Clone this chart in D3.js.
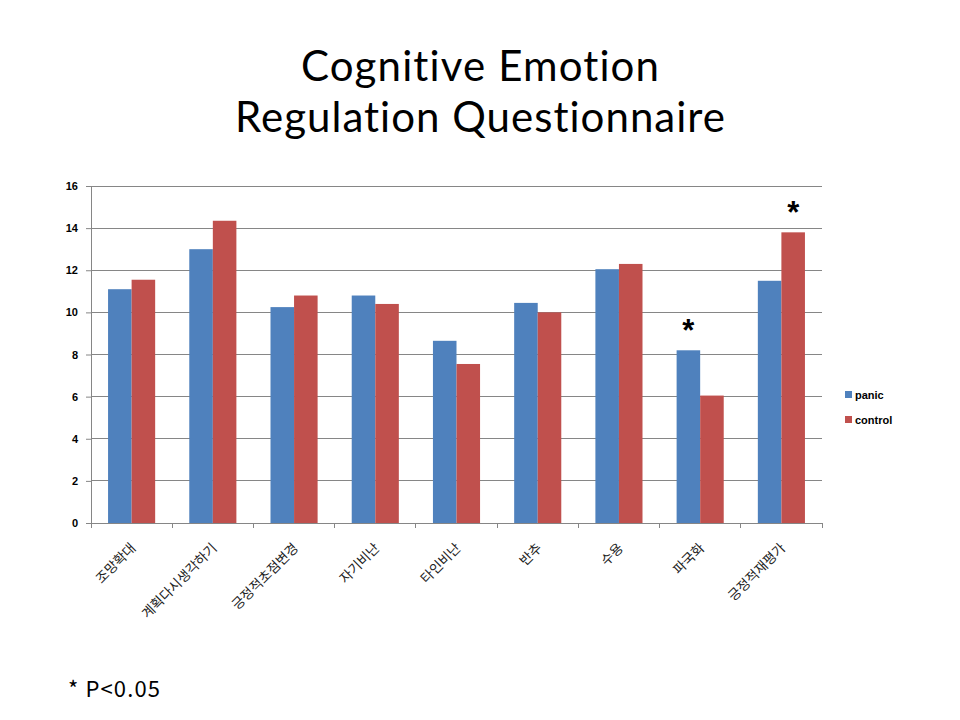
<!DOCTYPE html>
<html><head><meta charset="utf-8">
<script src="https://cdn.jsdelivr.net/npm/d3@7"></script>
<style>body{margin:0;background:#fff}svg{display:block}text{font-variant-ligatures:none;font-feature-settings:"liga" 0,"clig" 0}</style>
</head><body>
<script>
const categories = ["조망확대","계획다시생각하기","긍정적초점변경","자기비난","타인비난","반추","수용","파국화","긍정적재평가"];
const seriesNames = ["panic","control"];
const panic   = [11.1, 13.0, 10.25, 10.8, 8.65, 10.45, 12.05, 8.2, 11.5];
const control = [11.55, 14.35, 10.8, 10.4, 7.55, 10.0, 12.3, 6.05, 13.8];
const yTicks = [0,2,4,6,8,10,12,14,16];
const titleLines = ["Cognitive Emotion","Regulation Questionnaire"];
const significant = [{cat:"파국화", series:"panic"}, {cat:"긍정적재평가", series:"control"}];
const colors = {panic:"#4F81BD", control:"#C0504D"};

const W=960,H=720;
const svg=d3.select("body").append("svg").attr("width",W).attr("height",H);
const m={left:91,right:822,top:186,bottom:523};
const x=d3.scaleBand().domain(categories).range([m.left,m.right]).paddingInner(0.42).paddingOuter(0.21);
const xs=d3.scaleBand().domain(seriesNames).range([0,x.bandwidth()]);
const y=d3.scaleLinear().domain([0,16]).range([m.bottom,m.top]);

// title
const titleWidths=[358,490];
svg.append("g").selectAll("text").data(titleLines).join("text")
  .attr("x",480).attr("y",(d,i)=>81+i*51).attr("text-anchor","middle")
  .attr("font-family","Lato,'Open Sans',sans-serif").attr("font-size",42).attr("fill","#000")
  .attr("textLength",(d,i)=>titleWidths[i]).attr("lengthAdjust","spacing")
  .text(d=>d);

// gridlines
svg.append("g").selectAll("line").data(yTicks).join("line")
  .attr("x1",m.left).attr("x2",m.right).attr("y1",d=>y(d)).attr("y2",d=>y(d))
  .attr("stroke","#868686").attr("stroke-width",1).attr("shape-rendering","crispEdges");

// y axis
const ya=svg.append("g").attr("transform",`translate(${m.left},0)`).call(d3.axisLeft(y).tickValues(yTicks).tickSize(5).tickPadding(8));
ya.select(".domain").attr("stroke","#868686");
ya.selectAll(".tick line").attr("stroke","#868686");
ya.selectAll("text").attr("font-family","'Liberation Sans',Arial,sans-serif").attr("font-weight","bold").attr("font-size",11).attr("fill","#000");

// bars
const data=categories.map((c,i)=>({cat:c,panic:panic[i],control:control[i]}));
const g=svg.append("g");
g.selectAll("g").data(data).join("g").attr("transform",d=>`translate(${x(d.cat)},0)`)
  .selectAll("rect").data(d=>seriesNames.map(s=>({s,v:d[s]}))).join("rect")
  .attr("x",d=>xs(d.s)).attr("width",xs.bandwidth()).attr("y",d=>y(d.v)).attr("height",d=>y(0)-y(d.v))
  .attr("fill",d=>colors[d.s]);

// x axis
svg.append("line").attr("x1",m.left).attr("x2",m.right).attr("y1",m.bottom+0.5).attr("y2",m.bottom+0.5).attr("stroke","#868686");
svg.append("g").selectAll("line").data(d3.range(categories.length+1)).join("line")
  .attr("x1",i=>m.left+i*(m.right-m.left)/categories.length).attr("x2",i=>m.left+i*(m.right-m.left)/categories.length)
  .attr("y1",m.bottom).attr("y2",m.bottom+5).attr("stroke","#868686").attr("shape-rendering","crispEdges");
svg.append("g").selectAll("text").data(categories).join("text")
  .attr("transform",d=>`translate(${x(d)+x.bandwidth()/2+5},${m.bottom+26}) rotate(-45)`)
  .attr("text-anchor","end").attr("font-family","'Noto Sans CJK KR',sans-serif").attr("font-size",13.5).attr("fill","#222")
  .text(d=>d);

// significance stars
svg.append("g").selectAll("text").data(significant).join("text")
  .attr("x",d=>x(d.cat)+xs(d.series)+xs.bandwidth()/2)
  .attr("y",d=>y(d.series==="panic"?panic[categories.indexOf(d.cat)]:control[categories.indexOf(d.cat)])-9)
  .attr("text-anchor","middle").attr("font-family","'Liberation Sans',Arial,sans-serif").attr("font-weight","bold").attr("font-size",31).attr("fill","#000")
  .text("*");

// legend
const lg=svg.append("g").selectAll("g").data(seriesNames).join("g").attr("transform",(d,i)=>`translate(845,${395+i*25})`);
lg.append("rect").attr("x",0).attr("y",-4).attr("width",7).attr("height",7).attr("fill",d=>colors[d]);
lg.append("text").attr("x",10).attr("y",4).attr("font-family","'Liberation Sans',Arial,sans-serif").attr("font-weight","bold").attr("font-size",11).attr("fill","#000").text(d=>d);

// footnote
svg.append("text").attr("x",68).attr("y",697).attr("font-family","'Noto Sans CJK KR','Noto Sans',sans-serif").attr("font-size",22).attr("fill","#000")
  .attr("textLength",92).attr("lengthAdjust","spacing").text("* P<0.05");
</script>
</body></html>
